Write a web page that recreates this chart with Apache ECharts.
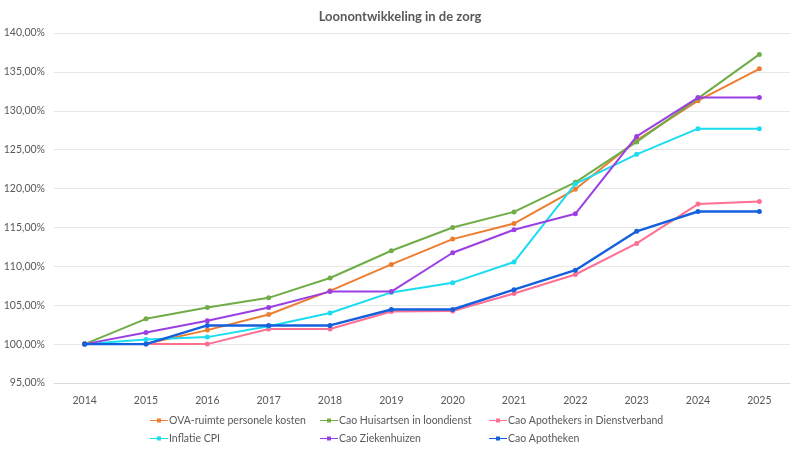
<!DOCTYPE html>
<html>
<head>
<meta charset="utf-8">
<script src="https://cdn.jsdelivr.net/npm/echarts@6/dist/echarts.min.js"></script>
<style>
    html, body { margin: 0; padding: 0; background: #fff; }
    #chart { width: 800px; height: 450px; }
</style>
</head>
<body>
<div id="chart"></div>
<script>
// Loonontwikkeling in de zorg, index 2014 = 100%
const years = ['2014', '2015', '2016', '2017', '2018', '2019', '2020', '2021', '2022', '2023', '2024', '2025']

const ovaRuimte = [100, 100.05, 101.8, 103.8, 106.85, 110.25, 113.5, 115.5, 119.9, 126.2, 131.3, 135.4]
const huisartsen = [100, 103.25, 104.7, 105.95, 108.5, 112.0, 115.0, 117.0, 120.8, 126.0, 131.6, 137.25]
const apothekersDienst = [100, 100, 100, 101.95, 101.95, 104.2, 104.25, 106.5, 108.95, 112.95, 118.0, 118.35]
const inflatieCpi = [100, 100.6, 100.9, 102.3, 104.0, 106.65, 107.9, 110.55, 120.6, 124.4, 127.7, 127.7]
const ziekenhuizen = [100, 101.5, 103.0, 104.7, 106.75, 106.75, 111.75, 114.7, 116.75, 126.7, 131.7, 131.7]
const apotheken = [100, 100, 102.4, 102.4, 102.4, 104.45, 104.45, 107.0, 109.5, 114.5, 117.05, 117.05]

const seriesNames = [
    'OVA-ruimte personele kosten',
    'Cao Huisartsen in loondienst',
    'Cao Apothekers in Dienstverband',
    'Inflatie CPI',
    'Cao Ziekenhuizen',
    'Cao Apotheken',
]
const seriesData = [ovaRuimte, huisartsen, apothekersDienst, inflatieCpi, ziekenhuizen, apotheken]
const colors = ['#ED7D31', '#70AD47', '#FF6F91', '#1BDCF0', '#9B3FE3', '#1560DC']

const font = 'Lato, "Open Sans", sans-serif'
const chart = echarts.init(document.getElementById('chart'))

function pct(v) {
    return v.toFixed(2).replace('.', ',') + '%'
}

function legendAt(left, names) {
    return {
        left: left,
        top: 410,
        orient: 'vertical',
        itemGap: 7,
        itemWidth: 18,
        itemHeight: 8,
        icon: 'path://M0,3.5 L18,3.5 L18,4.5 L0,4.5 Z M7,2 L11,2 L11,6 L7,6 Z',
        textStyle: { fontFamily: font, fontSize: 10.5, color: '#595959', padding: [0, 0, 0, -4] },
        data: names,
    }
}

chart.setOption({
    animation: false,
    backgroundColor: '#fff',
    color: colors,
    title: {
        text: 'Loonontwikkeling in de zorg',
        left: 'center',
        top: 5,
        textStyle: { fontFamily: font, fontSize: 13, fontWeight: 'bold', color: '#595959' },
    },
    legend: [
        legendAt(145, [seriesNames[0], seriesNames[3]]),
        legendAt(315, [seriesNames[1], seriesNames[4]]),
        legendAt(484, [seriesNames[2], seriesNames[5]]),
    ],
    grid: { left: 54, right: 10, top: 33, bottom: 67 },
    xAxis: {
        type: 'category',
        data: years,
        boundaryGap: true,
        axisLine: { lineStyle: { color: '#d9d9d9' } },
        axisTick: { show: false },
        axisLabel: { fontFamily: font, fontSize: 10.5, color: '#595959', margin: 12 },
    },
    yAxis: {
        type: 'value',
        min: 95,
        max: 140,
        interval: 5,
        axisLine: { show: false },
        axisTick: { show: false },
        splitLine: { lineStyle: { color: '#e6e6e6' } },
        axisLabel: { fontFamily: font, fontSize: 10.5, color: '#595959', formatter: pct, margin: 9 },
    },
    series: seriesData.map((d, i) => ({
        name: seriesNames[i],
        type: 'line',
        data: d,
        symbol: 'circle',
        symbolSize: 5,
        lineStyle: { width: i === 5 ? 2.4 : 2 },
        z: 2 + i,
    })),
})
</script>
</body>
</html>
